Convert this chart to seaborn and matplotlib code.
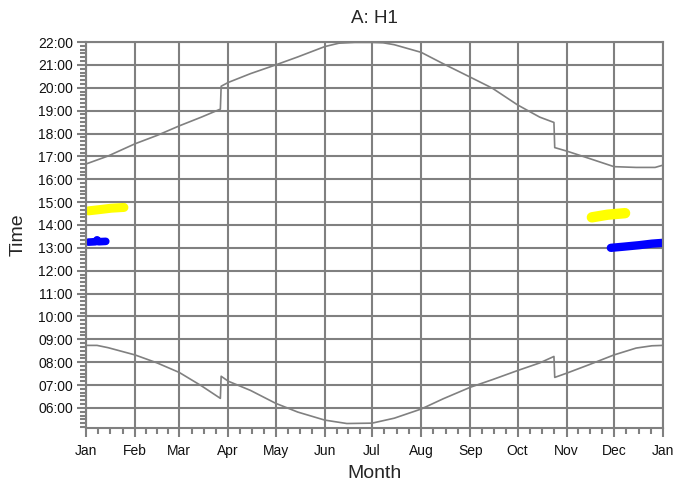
import matplotlib
matplotlib.use("Agg")
import matplotlib.pyplot as plt
import numpy as np
import seaborn as sns

# day of year (0 = 1 Jan) and clock times
sunset_day = [0, 14, 31, 45, 59, 73, 85, 85.5, 90, 104, 120, 134, 151, 160, 170, 181, 188,
              195, 212, 226, 243, 257, 273, 287, 296, 296.5, 304, 318, 334, 348, 360, 365]
sunset_time = ["16:40", "17:01", "17:33", "17:55", "18:20", "18:43", "19:04", "20:04", "20:14",
               "20:37", "21:00", "21:21", "21:48", "21:57", "21:59", "21:59", "21:58", "21:53",
               "21:33", "21:03", "20:28", "19:59", "19:15", "18:43", "18:29", "17:23", "17:14",
               "16:55", "16:33", "16:31", "16:31", "16:37"]

sunrise_day = [0, 7, 14, 31, 45, 59, 73, 85, 85.5, 90, 104, 120, 134, 151, 165, 181, 195,
               212, 226, 243, 257, 273, 287, 296, 296.5, 304, 318, 334, 348, 358, 365]
sunrise_time = ["08:44", "08:44", "08:38", "08:19", "07:58", "07:33", "06:58", "06:25", "07:23",
                "07:10", "06:46", "06:12", "05:49", "05:28", "05:19", "05:20", "05:33", "05:57",
                "06:24", "06:54", "07:14", "07:38", "07:58", "08:15", "07:20", "07:31", "07:53",
                "08:19", "08:37", "08:43", "08:44"]

yellow_jan_day = [1.5, 8, 16, 24]
yellow_jan_time = ["14:37", "14:40", "14:44", "14:46"]
yellow_dec_day = [320, 330, 341]
yellow_dec_time = ["14:20", "14:27", "14:31"]

blue_jan_day = [1.5, 6, 7, 8, 12.5]
blue_jan_time = ["13:15", "13:16", "13:21", "13:16", "13:17"]
blue_dec_day = [332, 340, 350, 358, 364.5]
blue_dec_time = ["13:00", "13:03", "13:07", "13:11", "13:13"]

month_days = [0, 31, 59, 90, 120, 151, 181, 212, 243, 273, 304, 334, 365]
month_labels = ["Jan", "Feb", "Mar", "Apr", "May", "Jun", "Jul", "Aug", "Sep", "Oct", "Nov", "Dec", "Jan"]
hour_ticks = list(range(6, 23))


def to_hours(times):
    return [int(t[:2]) + int(t[3:]) / 60.0 for t in times]


sns.set_style("white")
plt.rcParams['font.family'] = ['Liberation Sans', 'DejaVu Sans']

grey = "#808080"
fig = plt.figure(figsize=(6.76, 4.86), dpi=100)
ax = fig.add_axes([0.1272, 0.1193, 0.8536, 0.7942])

sns.lineplot(x=sunset_day, y=to_hours(sunset_time), estimator=None, sort=False,
             color=grey, linewidth=1.2, ax=ax)
sns.lineplot(x=sunrise_day, y=to_hours(sunrise_time), estimator=None, sort=False,
             color=grey, linewidth=1.2, ax=ax)

for d, t, c, lw in [(yellow_jan_day, yellow_jan_time, "#ffff00", 6.5),
                    (yellow_dec_day, yellow_dec_time, "#ffff00", 7.5),
                    (blue_jan_day, blue_jan_time, "#0000ff", 5.5),
                    (blue_dec_day, blue_dec_time, "#0000ff", 6.0)]:
    sns.lineplot(x=d, y=to_hours(t), estimator=None, sort=False, color=c,
                 linewidth=lw, solid_capstyle="round", ax=ax)

ax.set_xlim(0, 365)
ax.set_ylim(5.12, 22)
ax.set_xticks(month_days)
ax.set_xticklabels(month_labels)
minor_x = []
for a, b in zip(month_days[:-1], month_days[1:]):
    minor_x += [a + (b - a) * k / 4 for k in (1, 2, 3)]
ax.set_xticks(minor_x, minor=True)
ax.set_yticks(hour_ticks)
ax.set_yticklabels(["%02d:00" % h for h in hour_ticks])
ax.set_yticks(np.arange(5 + 1 / 6, 22, 1 / 6), minor=True)

ax.grid(True, which="major", color=grey, linewidth=1.5)
ax.set_axisbelow(True)
for s in ax.spines.values():
    s.set_color(grey)
    s.set_linewidth(1.5)
ax.tick_params(which="major", direction="out", length=6.5, width=1.5, color=grey,
               labelsize=10, labelcolor="#111111", pad=3)
ax.tick_params(which="minor", direction="out", length=4, width=1.5, color=grey)
ax.tick_params(axis="x", which="major", pad=5)
ax.tick_params(axis="x", which="both", bottom=True)
ax.tick_params(axis="y", which="both", left=True)

ax.set_xlabel("Month", fontsize=14, labelpad=5)
ax.set_ylabel("Time", fontsize=14, labelpad=8)
ax.set_title("A: H1", fontsize=13.5, pad=14)

fig.savefig("out.png", dpi=100)
